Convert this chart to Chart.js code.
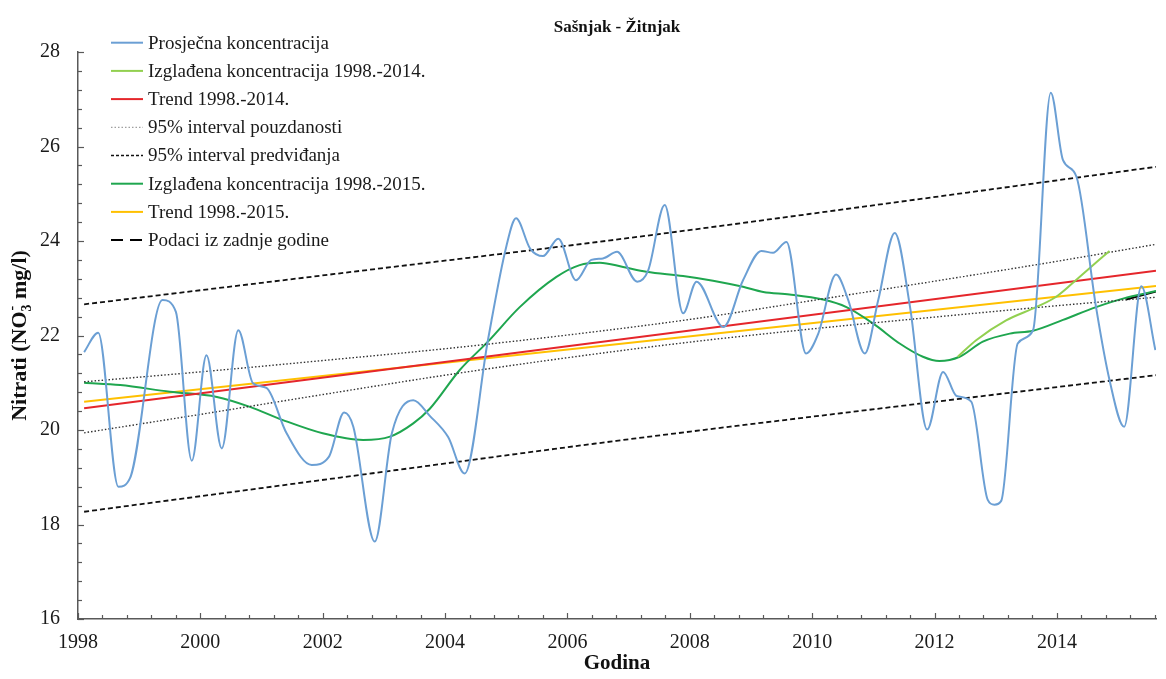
<!DOCTYPE html>
<html>
<head>
<meta charset="utf-8">
<script src="https://cdn.jsdelivr.net/npm/chart.js@4/dist/chart.umd.min.js"></script>
<style>
    html, body { margin: 0; padding: 0; background: #fff; }
    #wrap { width: 1166px; height: 679px; }
</style>
</head>
<body>
<div id="wrap"><canvas id="nitratChart"></canvas></div>
<script>
// ---- podaci očitani s grafa ----
const xTicks = [1998, 2000, 2002, 2004, 2006, 2008, 2010, 2012, 2014];
const yTicks = [16, 18, 20, 22, 24, 26, 28];

// Prosječna koncentracija
const avgX = [1998.10, 1998.33, 1998.66, 1998.85, 1999.38, 1999.60, 1999.86, 2000.10, 2000.35, 2000.62,
              2000.86, 2001.08, 2001.41, 2001.82, 2002.10, 2002.35, 2002.50, 2002.85, 2003.13, 2003.48,
              2003.75, 2004.05, 2004.32, 2004.70, 2005.00, 2005.16, 2005.39, 2005.60, 2005.85, 2006.14,
              2006.39, 2006.58, 2006.81, 2007.14, 2007.32, 2007.59, 2007.89, 2008.11, 2008.55, 2008.87,
              2009.17, 2009.36, 2009.58, 2009.90, 2010.10, 2010.39, 2010.59, 2010.86, 2011.08, 2011.35,
              2011.60, 2011.88, 2012.14, 2012.36, 2012.60, 2012.87, 2012.98, 2013.09, 2013.36, 2013.61,
              2013.90, 2014.10, 2014.32, 2014.64, 2014.86, 2015.10, 2015.38, 2015.61];
const avgY = [21.65, 22.06, 18.80, 18.98, 22.75, 22.50, 19.35, 21.58, 19.61, 22.11,
              20.99, 20.89, 19.93, 19.26, 19.43, 20.37, 20.07, 17.64, 19.93, 20.63,
              20.30, 19.85, 19.08, 21.90, 23.88, 24.48, 23.84, 23.68, 24.05, 23.17,
              23.60, 23.63, 23.77, 23.14, 23.38, 24.76, 22.47, 23.14, 22.18, 23.17,
              23.79, 23.75, 23.98, 21.62, 22.04, 23.29, 22.75, 21.62, 22.75, 24.17,
              22.60, 20.01, 21.23, 20.72, 20.60, 18.52, 18.42, 18.50, 21.83, 22.11,
              27.14, 25.71, 25.36, 22.60, 21.06, 20.07, 23.04, 21.69];

// Izglađena koncentracija 1998.-2014. (vidljivi dio nakon odvajanja)
const smooth14X = [2012.38, 2012.68, 2013.17, 2013.66, 2013.99, 2014.37, 2014.86];
const smooth14Y = [21.55, 21.90, 22.32, 22.60, 22.82, 23.24, 23.79];

// Izglađena koncentracija 1998.-2015.
const smooth15X = [1998.10, 1998.69, 1999.50, 2000.27, 2000.81, 2001.35, 2002.00, 2002.66, 2003.10, 2003.48,
                   2003.75, 2004.24, 2004.70, 2005.22, 2005.82, 2006.20, 2006.53, 2006.91, 2007.29, 2007.89,
                   2008.38, 2008.87, 2009.20, 2009.63, 2010.18, 2010.56, 2011.00, 2011.43, 2011.81, 2012.08,
                   2012.41, 2012.79, 2013.23, 2013.61, 2014.10, 2014.64, 2015.08, 2015.62];
const smooth15Y = [21.00, 20.95, 20.81, 20.70, 20.49, 20.21, 19.93, 19.79, 19.86, 20.14,
                   20.45, 21.27, 21.87, 22.60, 23.24, 23.49, 23.54, 23.45, 23.35, 23.26,
                   23.16, 23.03, 22.92, 22.87, 22.76, 22.60, 22.25, 21.83, 21.55, 21.46,
                   21.55, 21.87, 22.04, 22.10, 22.33, 22.60, 22.78, 22.94];

// Trendovi
const trendX = [1998.10, 2015.62];
const trend14Y = [20.46, 23.37];
const trend15Y = [20.60, 23.05];

// 95% interval pouzdanosti
const confX = [1998.10, 2000, 2002, 2004, 2006, 2008, 2010, 2012, 2014, 2015.62];
const confUpY = [21.02, 21.23, 21.47, 21.72, 22.01, 22.34, 22.74, 23.15, 23.57, 23.93];
const confLoY = [19.94, 20.33, 20.75, 21.16, 21.53, 21.86, 22.14, 22.39, 22.63, 22.81];

// 95% interval predviđanja
const predX = [1998.10, 2002.5, 2006.8, 2011.2, 2015.62];
const predUpY = [22.66, 23.35, 24.03, 24.79, 25.57];
const predLoY = [18.27, 19.03, 19.77, 20.47, 21.16];

// Podaci iz zadnje godine
const lastX = [2015.13, 2015.62];
const lastY = [22.76, 22.93];

const FONT = "'Liberation Serif', 'Times New Roman', serif";
const AXIS_COLOR = '#595959';

function pts(xs, ys) {
    return xs.map((x, i) => ({ x: x, y: ys[i] }));
}

function line(label, xs, ys, color, width, extra) {
    return Object.assign({
        label: label,
        data: pts(xs, ys),
        borderColor: color,
        backgroundColor: color,
        borderWidth: width,
        pointRadius: 0,
        fill: false
    }, extra || {});
}

const datasets = [
    line('Prosječna koncentracija', avgX, avgY, '#6b9fd4', 2, { cubicInterpolationMode: 'monotone' }),
    line('Izglađena koncentracija 1998.-2014.', smooth14X, smooth14Y, '#92d050', 2, { cubicInterpolationMode: 'monotone' }),
    line('Trend 1998.-2014.', trendX, trend14Y, '#e5262b', 2),
    line('95% interval pouzdanosti', confX, confUpY, '#333333', 1.4, { borderDash: [1.5, 2], cubicInterpolationMode: 'monotone', legendColor: '#888888', legendWidth: 1 }),
    line('95% interval pouzdanosti', confX, confLoY, '#333333', 1.4, { borderDash: [1.5, 2], cubicInterpolationMode: 'monotone', skipLegend: true }),
    line('95% interval predviđanja', predX, predUpY, '#111111', 1.8, { borderDash: [5, 3], cubicInterpolationMode: 'monotone', legendDash: [3, 2], legendWidth: 1.3 }),
    line('95% interval predviđanja', predX, predLoY, '#111111', 1.8, { borderDash: [5, 3], cubicInterpolationMode: 'monotone', skipLegend: true }),
    line('Izglađena koncentracija 1998.-2015.', smooth15X, smooth15Y, '#1fa64f', 2, { cubicInterpolationMode: 'monotone' }),
    line('Trend 1998.-2015.', trendX, trend15Y, '#ffc000', 2),
    line('Podaci iz zadnje godine', lastX, lastY, '#000000', 2, { legendDash: [12, 7] })
];

// os Y: naslov s indeksom i eksponentom (NO3-)
function drawYTitle(ctx, cx, cy) {
    const big = 'bold 22px ' + FONT, small = 'bold 14px ' + FONT;
    const p1 = 'Nitrati (NO', p2 = ' mg/l)';
    ctx.save();
    ctx.translate(cx, cy);
    ctx.rotate(-Math.PI / 2);
    ctx.fillStyle = '#111';
    ctx.textBaseline = 'alphabetic';
    ctx.textAlign = 'left';
    ctx.font = big;
    const w1 = ctx.measureText(p1).width, w3 = ctx.measureText(p2).width;
    ctx.font = small;
    const w2 = Math.max(ctx.measureText('3').width, ctx.measureText('-').width);
    let x = -(w1 + w2 + w3) / 2;
    const base = 8;
    ctx.font = big;
    ctx.fillText(p1, x, base);
    x += w1;
    ctx.font = small;
    ctx.fillText('3', x, base + 5);
    ctx.fillText('-', x + 1, base - 10);
    x += w2;
    ctx.font = big;
    ctx.fillText(p2, x, base);
    ctx.restore();
}

// ticks okrenuti prema unutra, naslov i legenda u kutu
const extrasPlugin = {
    id: 'extras',
    afterDraw(chart) {
        const ctx = chart.ctx;
        const xs = chart.scales.x, ys = chart.scales.y, area = chart.chartArea;
        ctx.save();
        ctx.strokeStyle = AXIS_COLOR;
        ctx.lineWidth = 1.2;
        for (let i = 0; xs.min + i * 0.4 <= xs.max + 1e-6; i++) {
            const px = Math.round(xs.getPixelForValue(xs.min + i * 0.4)) + 0.5;
            const len = i % 5 === 0 ? 6 : 4;
            ctx.beginPath(); ctx.moveTo(px, area.bottom); ctx.lineTo(px, area.bottom - len); ctx.stroke();
        }
        for (let i = 0; ys.min + i * 0.4 <= ys.max + 1e-6; i++) {
            const py = Math.round(ys.getPixelForValue(ys.min + i * 0.4)) + 0.5;
            const len = i % 5 === 0 ? 6 : 4;
            ctx.beginPath(); ctx.moveTo(area.left, py); ctx.lineTo(area.left + len, py); ctx.stroke();
        }

        drawYTitle(ctx, 18, (area.top + area.bottom) / 2);

        // naslov
        ctx.fillStyle = '#111';
        ctx.font = 'bold 17px ' + FONT;
        ctx.textAlign = 'center';
        ctx.textBaseline = 'middle';
        ctx.fillText('Sašnjak - Žitnjak', (area.left + area.right) / 2, 28);

        // legenda
        ctx.font = '19px ' + FONT;
        ctx.textAlign = 'left';
        let y = 42.7;
        chart.data.datasets.forEach(ds => {
            if (ds.skipLegend) return;
            ctx.setLineDash(ds.legendDash || ds.borderDash || []);
            ctx.strokeStyle = ds.legendColor || ds.borderColor;
            ctx.lineWidth = ds.legendWidth || ds.borderWidth;
            ctx.beginPath(); ctx.moveTo(111, y); ctx.lineTo(143, y); ctx.stroke();
            ctx.setLineDash([]);
            ctx.fillStyle = '#1a1a1a';
            ctx.fillText(ds.label, 148, y + 1);
            y += 28.2;
        });
        ctx.restore();
    }
};

new Chart(document.getElementById('nitratChart'), {
    type: 'line',
    data: { datasets: datasets },
    options: {
        responsive: true,
        maintainAspectRatio: false,
        animation: false,
        devicePixelRatio: 1,
        layout: { padding: { top: 52, right: 10, left: 0, bottom: 0 } },
        plugins: {
            legend: { display: false },
            title: { display: false },
            tooltip: { enabled: false }
        },
        scales: {
            x: {
                type: 'linear',
                min: 1998,
                max: 2015.62,
                grid: { display: false, drawTicks: false },
                border: { display: true, color: AXIS_COLOR, width: 1.5 },
                afterBuildTicks: s => { s.ticks = xTicks.map(v => ({ value: v })); },
                afterFit: s => { s.height = 60; },
                ticks: {
                    color: '#1a1a1a',
                    padding: 12,
                    maxRotation: 0,
                    font: { family: FONT, size: 20 },
                    callback: v => String(v)
                },
                title: {
                    display: true,
                    text: 'Godina',
                    color: '#111',
                    font: { family: FONT, size: 21, weight: 'bold' },
                    padding: { top: 0, bottom: 3 }
                }
            },
            y: {
                type: 'linear',
                min: 16,
                max: 28,
                grid: { display: false, drawTicks: false },
                border: { display: true, color: AXIS_COLOR, width: 1.5 },
                afterBuildTicks: s => { s.ticks = yTicks.map(v => ({ value: v })); },
                afterFit: s => { s.width = 78; },
                ticks: {
                    color: '#1a1a1a',
                    padding: 18,
                    font: { family: FONT, size: 20 },
                    callback: v => String(v)
                },
                title: { display: false }
            }
        }
    },
    plugins: [extrasPlugin]
});
</script>
</body>
</html>
